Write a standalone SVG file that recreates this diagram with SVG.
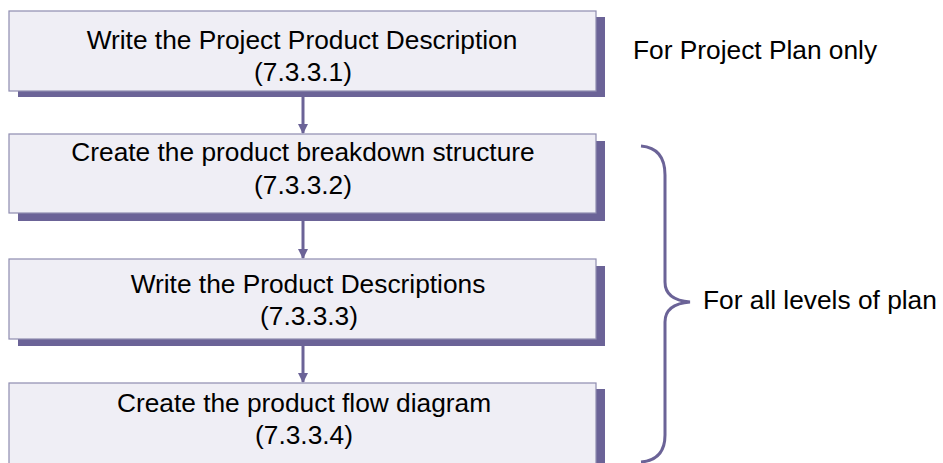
<svg xmlns="http://www.w3.org/2000/svg" width="943" height="463" viewBox="0 0 943 463">
<defs>
<style>
.box{fill:#EFEEF5;stroke:#8E8CB0;stroke-width:1.2}
.shadow{fill:#6B6397}
.t{font-family:"Liberation Sans",Arial,sans-serif;font-size:26.3px;fill:#000;text-anchor:middle}
.lbl{font-family:"Liberation Sans",Arial,sans-serif;font-size:26.3px;fill:#000}
.conn{stroke:#6B6397;stroke-width:3;fill:none}
</style>
<marker id="ah" viewBox="0 0 10 10" refX="9" refY="5" markerWidth="3.5" markerHeight="3.5" orient="auto" markerUnits="strokeWidth">
<path d="M0,0 L10,5 L0,10 z" fill="#6B6397"/>
</marker>
</defs>
<rect width="943" height="463" fill="#fff"/>
<g id="connectors">
<line class="conn" x1="303" y1="97" x2="303" y2="133" marker-end="url(#ah)"/>
<line class="conn" x1="303" y1="221" x2="303" y2="258" marker-end="url(#ah)"/>
<line class="conn" x1="303" y1="346" x2="303" y2="382" marker-end="url(#ah)"/>
</g>
<g id="n1">
<rect class="shadow" x="18" y="17" width="587" height="80"/>
<rect class="box" x="9" y="11" width="587" height="80"/>
<text class="t" x="302" y="49">Write the Project Product Description</text>
<text class="t" x="303" y="81">(7.3.3.1)</text>
</g>
<g id="n2">
<rect class="shadow" x="18" y="141" width="587" height="80"/>
<rect class="box" x="9" y="134" width="587" height="79"/>
<text class="t" x="303" y="161">Create the product breakdown structure</text>
<text class="t" x="303" y="194">(7.3.3.2)</text>
</g>
<g id="n3">
<rect class="shadow" x="18" y="266" width="587" height="80"/>
<rect class="box" x="9" y="259" width="587" height="80"/>
<text class="t" x="308" y="293">Write the Product Descriptions</text>
<text class="t" x="309" y="325">(7.3.3.3)</text>
</g>
<g id="n4">
<rect class="shadow" x="18" y="389" width="587" height="80"/>
<rect class="box" x="9" y="383" width="587" height="85"/>
<text class="t" x="304" y="412">Create the product flow diagram</text>
<text class="t" x="304" y="444">(7.3.3.4)</text>
</g>
<g id="note1">
<text class="lbl" x="633" y="59">For Project Plan only</text>
</g>
<g id="brace">
<path class="conn" d="M641,146 Q665,148 665,175 L665,282 Q665,300 690,302 Q665,304 665,322 L665,435 Q665,460 641,462"/>
<text class="lbl" x="703" y="309">For all levels of plan</text>
</g>
</svg>
